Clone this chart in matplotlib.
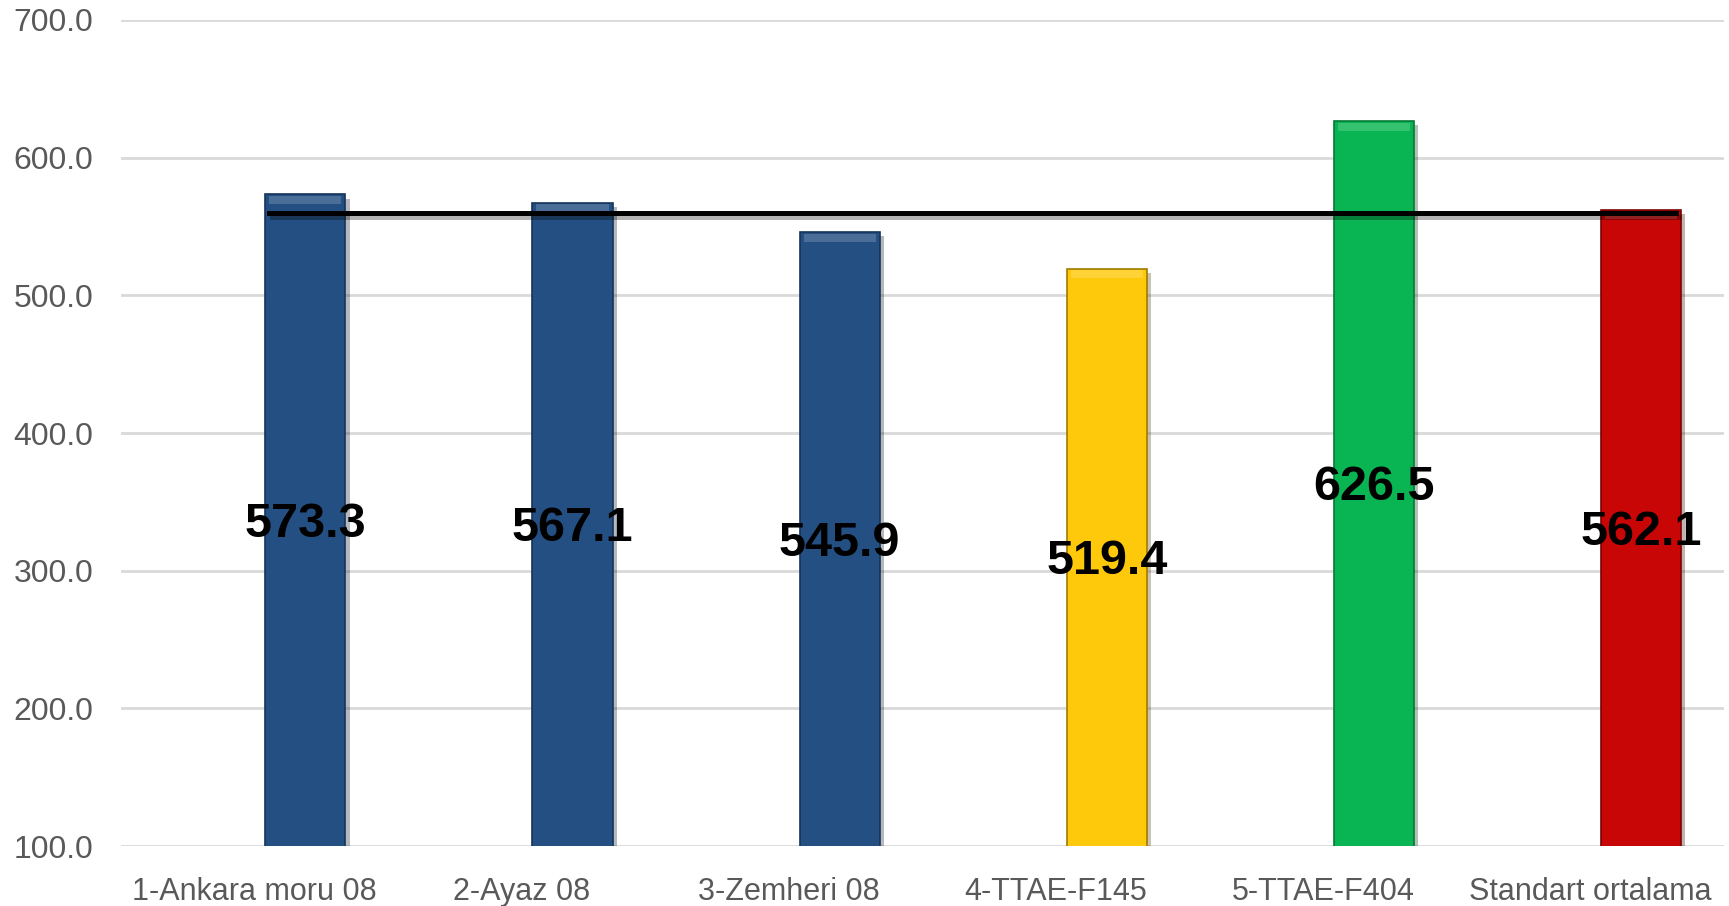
import numpy as np
import matplotlib
matplotlib.use("Agg")
import matplotlib.pyplot as plt
import matplotlib.patheffects as pe

cesitler = ['1-Ankara moru 08', '2-Ayaz 08', '3-Zemheri 08', '4-TTAE-F145', '5-TTAE-F404', 'Standart ortalama']
degerler = [573.3, 567.1, 545.9, 519.4, 626.5, 562.1]
renkler = ['#244f83', '#244f83', '#244f83', '#ffc90b', '#08b552', '#c90606']
kenar = ['#16345a', '#16345a', '#16345a', '#a07a00', '#067a36', '#7a0303']
ortalama_cizgi = 560.0
y_ticks = [100, 200, 300, 400, 500, 600, 700]

plt.rcParams['font.family'] = ['Liberation Sans', 'DejaVu Sans']

fig = plt.figure(figsize=(17.29, 9.06), dpi=100)
ax = fig.add_axes([0.07, 0.066, 0.927, 0.912])

x = np.arange(len(cesitler))
kayma = 0.19
genislik = 0.30
bx = x + kayma

golge = [pe.SimplePatchShadow(offset=(3, -3), alpha=0.3), pe.Normal()]
bars = ax.bar(bx, degerler, width=genislik, color=renkler, edgecolor=kenar,
              linewidth=1.2, zorder=3)
for b in bars:
    b.set_path_effects(golge)

# lighter top bevel
ax.bar(bx, [6] * len(degerler), bottom=np.array(degerler) - 7, width=genislik * 0.9,
       color='white', alpha=0.18, linewidth=0, zorder=4)

# reference line
ax.plot([bx[0] - genislik / 2 + 0.015, bx[-1] + genislik / 2 - 0.02],
        [ortalama_cizgi, ortalama_cizgi], color='black', linewidth=3.6, zorder=5,
        path_effects=[pe.SimpleLineShadow(offset=(2, -3), alpha=0.3), pe.Normal()])

for xi, v in zip(bx, degerler):
    ax.text(xi, (v + 100) / 2 - 3, f'{v:.1f}', ha='center', va='center',
            fontsize=35, fontweight='bold', color='black', zorder=6)

ax.set_ylim(100, 700)
ax.set_xlim(-0.5, len(cesitler) - 0.5)
ax.set_yticks(y_ticks)
ax.set_yticklabels([f'{t:.1f}' for t in y_ticks])
ax.set_xticks(x)
ax.set_xticklabels(cesitler)
ax.yaxis.grid(True, color='#d9d9d9', linewidth=2, zorder=0)
ax.set_axisbelow(True)
for s in ax.spines.values():
    s.set_visible(False)
ax.tick_params(axis='y', length=0, labelsize=23, labelcolor='#595959', pad=20)
ax.tick_params(axis='x', length=0, labelsize=22, labelcolor='#595959', pad=22)

plt.savefig('out.png', dpi=100)
